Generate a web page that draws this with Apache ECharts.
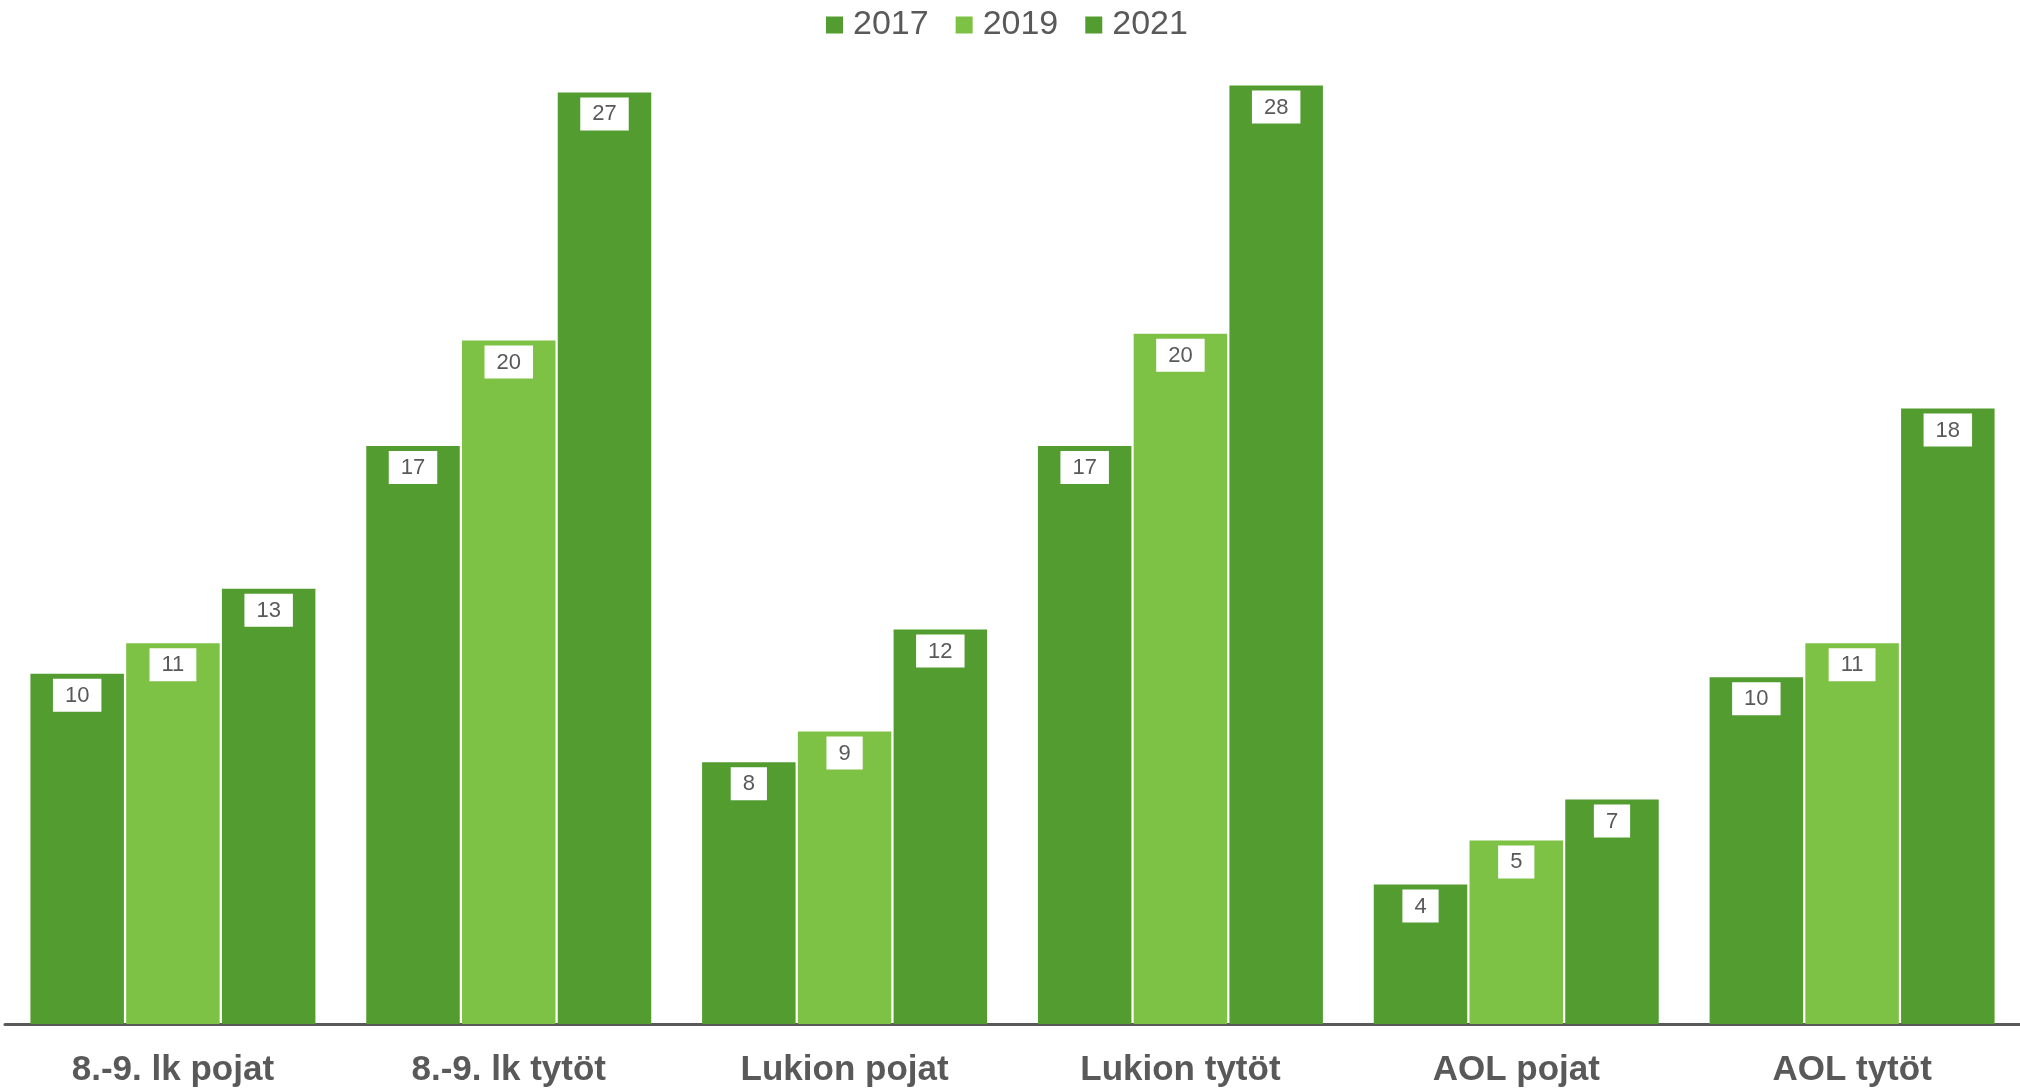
<!DOCTYPE html>
<html>
<head>
<meta charset="utf-8">
<script src="https://cdn.jsdelivr.net/npm/echarts@6/dist/echarts.min.js"></script>
<style>
html,body{margin:0;padding:0;background:#fff;}
#chart{width:2020px;height:1090px;}
</style>
</head>
<body>
<div id="chart"></div>
<script>
const categories = ['8.-9. lk pojat', '8.-9. lk tytöt', 'Lukion pojat', 'Lukion tytöt', 'AOL pojat', 'AOL tytöt'];
const seriesNames = ['2017', '2019', '2021'];
const values2017 = [10.3, 17.0, 7.7, 17.0, 4.1, 10.2];
const values2019 = [11.2, 20.1, 8.6, 20.3, 5.4, 11.2];
const values2021 = [12.8, 27.4, 11.6, 27.6, 6.6, 18.1];

const colors = ['#539C30', '#7DC245', '#539C30'];
const FONT = "'Liberation Sans', Arial, sans-serif";
const allValues = [values2017, values2019, values2021];

const chart = echarts.init(document.getElementById('chart'));
chart.setOption({
  animation: false,
  backgroundColor: '#ffffff',
  textStyle: { fontFamily: FONT },
  legend: {
    data: seriesNames,
    top: 3,
    left: 821,
    icon: 'rect',
    itemWidth: 17,
    itemHeight: 17,
    itemGap: 27,
    textStyle: { fontSize: 34, color: '#595959', fontFamily: FONT, padding: [0, 0, 0, 5] }
  },
  grid: { left: 5, top: 4, bottom: 66, right: -5, containLabel: false },
  xAxis: {
    type: 'category',
    data: categories,
    axisLine: { lineStyle: { color: '#595959', width: 3 } },
    axisTick: { show: false },
    axisLabel: { fontSize: 35, fontWeight: 'bold', color: '#595959', margin: 29, fontFamily: FONT, interval: 0 }
  },
  yAxis: {
    type: 'value',
    min: 0,
    max: 30,
    show: false,
    splitLine: { show: false }
  },
  series: seriesNames.map((name, i) => ({
    name: name,
    type: 'bar',
    data: allValues[i],
    barWidth: 93.5,
    barGap: '2.4%',
    itemStyle: { color: colors[i] },
    label: {
      show: true,
      position: 'insideTop',
      distance: 5,
      formatter: p => Math.round(p.value).toString(),
      backgroundColor: '#ffffff',
      color: '#595959',
      fontSize: 22,
      lineHeight: 24,
      padding: [5, 12, 4, 12],
      fontFamily: FONT
    }
  }))
});
</script>
</body>
</html>
